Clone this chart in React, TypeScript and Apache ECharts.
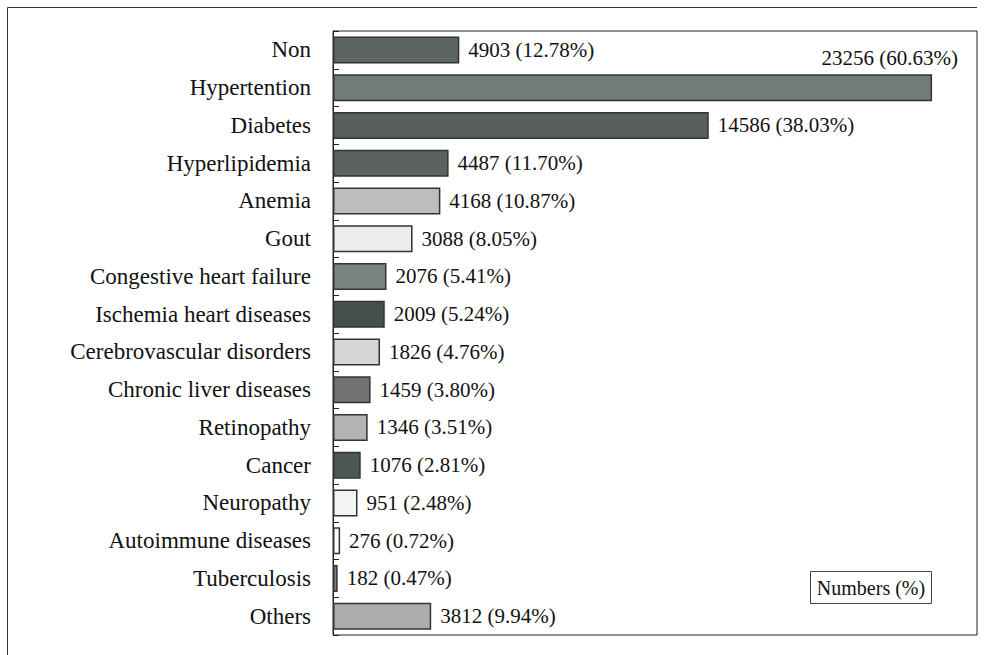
import React, { useEffect, useRef } from "react";
import * as echarts from "echarts";

const categories = [
  "Non",
  "Hypertention",
  "Diabetes",
  "Hyperlipidemia",
  "Anemia",
  "Gout",
  "Congestive heart failure",
  "Ischemia heart diseases",
  "Cerebrovascular disorders",
  "Chronic liver diseases",
  "Retinopathy",
  "Cancer",
  "Neuropathy",
  "Autoimmune diseases",
  "Tuberculosis",
  "Others",
];
const counts = [4903, 23256, 14586, 4487, 4168, 3088, 2076, 2009, 1826, 1459, 1346, 1076, 951, 276, 182, 3812];
const percents = ["12.78", "60.63", "38.03", "11.70", "10.87", "8.05", "5.41", "5.24", "4.76", "3.80", "3.51", "2.81", "2.48", "0.72", "0.47", "9.94"];
const barColors = [
  "#5d6563",
  "#717b79",
  "#585f5d",
  "#5b625f",
  "#bdbdbd",
  "#ececec",
  "#7b8482",
  "#47504d",
  "#d5d5d5",
  "#707272",
  "#b3b3b3",
  "#4d5855",
  "#f3f3f3",
  "#ffffff",
  "#808080",
  "#acacac",
];
const legendText = "Numbers (%)";

const FONT = "'Liberation Serif', 'Times New Roman', serif";

export default function App() {
  const ref = useRef<HTMLDivElement>(null);
  useEffect(() => {
    if (!ref.current) return;
    const chart = echarts.init(ref.current, null, { renderer: "svg" });
    const data = counts.map((v, i) => {
      const item: any = {
        value: v,
        itemStyle: { color: barColors[i] },
      };
      if (i === 1) {
        item.label = { position: "insideRight", offset: [35, -30] };
      }
      return item;
    });
    chart.setOption({
      animation: false,
      backgroundColor: "#ffffff",
      textStyle: { fontFamily: FONT },
      grid: {
        left: 333,
        top: 31,
        right: 16,
        bottom: 20,
        show: true,
        borderColor: "#222",
        borderWidth: 1,
        containLabel: false,
      },
      xAxis: {
        type: "value",
        min: 0,
        max: 25000,
        show: false,
      },
      yAxis: {
        type: "category",
        data: categories,
        inverse: true,
        axisLine: { show: true, lineStyle: { color: "#222", width: 1 } },
        axisTick: { show: true, inside: true, length: 6, lineStyle: { color: "#222" } },
        axisLabel: {
          color: "#111",
          fontFamily: FONT,
          fontSize: 23,
          margin: 22,
        },
        splitLine: { show: false },
      },
      series: [
        {
          type: "bar",
          data,
          barWidth: 27,
          itemStyle: { borderColor: "#333", borderWidth: 1.5 },
          label: {
            show: true,
            position: "right",
            distance: 9,
            color: "#111",
            fontFamily: FONT,
            fontSize: 21,
            formatter: (p: any) => `${counts[p.dataIndex]} (${percents[p.dataIndex]}%)`,
          },
        },
      ],
      graphic: [
        {
          type: "polyline",
          shape: { points: [[7.5, 655], [7.5, 7.5], [977, 7.5]] },
          style: { stroke: "#333", lineWidth: 1, fill: null },
          silent: true,
        },
        {
          type: "group",
          left: 810,
          top: 571,
          children: [
            {
              type: "rect",
              shape: { x: 0, y: 0, width: 121, height: 32 },
              style: { fill: "#fff", stroke: "#444", lineWidth: 1 },
            },
            {
              type: "text",
              x: 60.5,
              y: 16,
              style: {
                text: legendText,
                fontFamily: FONT,
                fontSize: 20,
                fill: "#111",
                align: "center",
                verticalAlign: "middle",
              },
            },
          ],
        },
      ],
    });
    return () => chart.dispose();
  }, []);
  return <div ref={ref} style={{ width: 993, height: 655, position: "absolute", left: 0, top: 0 }} />;
}
